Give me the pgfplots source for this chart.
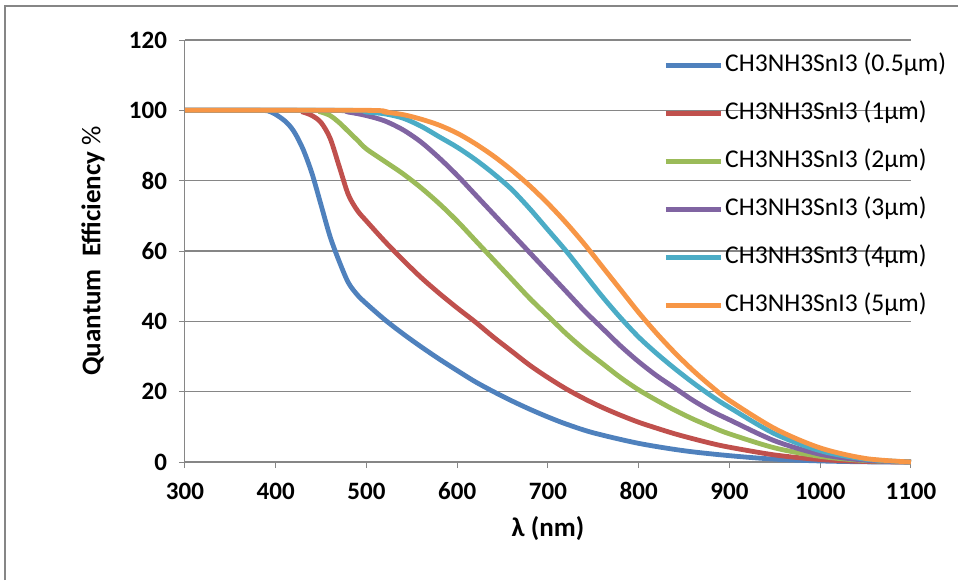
\documentclass[border=0pt]{standalone}
\usepackage{fontspec}
\setmainfont{Carlito}
\usepackage{pgfplots}
\pgfplotsset{compat=1.18}

\definecolor{xblue}{HTML}{4F81BD}
\definecolor{xred}{HTML}{C0504D}
\definecolor{xgreen}{HTML}{9BBB59}
\definecolor{xpurple}{HTML}{8064A2}
\definecolor{xteal}{HTML}{4BACC6}
\definecolor{xorange}{HTML}{F79646}
\definecolor{xgrid}{HTML}{868686}

\begin{document}
\begin{tikzpicture}
% page frame (chart area border, cut at right and bottom)
\useasboundingbox (-92.5pt,-59pt) rectangle (386.5pt,231pt);
\draw[xgrid, line width=0.75pt] (-90pt,-59pt) -- (-90pt,228pt) -- (386.5pt,228pt);

\begin{axis}[
    at={(0,0)}, anchor=origin,
    scale only axis,
    width=363pt, height=211pt,
    xmin=300, xmax=1100,
    ymin=0, ymax=120,
    xtick={300,400,...,1100},
    ytick={0,20,...,120},
    axis x line*=bottom,
    axis y line*=left,
    axis line style={xgrid, line width=0.5pt, -},
    tick align=outside,
    major tick length=3pt,
    tick style={xgrid, line width=0.5pt},
    ymajorgrids=true,
    grid style={xgrid, line width=0.6pt},
    /pgf/number format/assume math mode=true,
    /pgf/number format/set thousands separator={},
    ticklabel style={font=\bfseries\fontsize{12.5}{14}\selectfont},
    yticklabel style={anchor=east, xshift=-2.5pt},
    xticklabel style={anchor=center, yshift=-11.5pt},
    xlabel={λ (nm)},
    xlabel style={font=\bfseries\fontsize{13.5}{15}\selectfont, at={(0.5,-33.5pt)}, anchor=center},
    ylabel={{\bfseries Quantum\ \ Efficiency} \%},
    ylabel style={font=\fontsize{13.5}{15}\selectfont, at={(-46pt,0.5)}, anchor=center, rotate=0},
    legend style={at={(239pt,204.5pt)}, anchor=north west, draw=none, fill=none,
        font=\fontsize{12.8}{14}\selectfont, inner sep=0pt, row sep=12pt, column sep=1pt,
        nodes={inner sep=0pt, text height=9pt, text depth=3pt}},
    legend cell align=left,
    legend image code/.code={\draw[#1] (0pt,0pt) -- (27.5pt,0pt);},
    every axis plot/.append style={line width=2.4pt, smooth, tension=0.5},
    clip=false,
]

% 0.5 um
\addplot[xblue] coordinates {
(300,100) (380,100) (395,99.5) (410,97) (420,94) (430,89) (440,82) (450,73)
(460,64) (470,57) (480,51) (490,47.5) (500,45) (520,40.5) (540,36.5) (560,32.8)
(580,29.3) (600,26) (620,22.8) (640,20) (660,17.4) (680,15) (700,12.8)
(720,10.8) (750,8.3) (800,5.3) (850,3.2) (900,1.8) (950,0.8) (1000,0.3) (1050,0.05) (1100,0)
};
\addlegendentry{CH3NH3SnI3 (0.5µm)}

% 1 um
\addplot[xred] coordinates {
(300,100) (420,100) (430,99.5) (440,98.5) (450,96.5) (460,92) (470,84) (480,76)
(490,71.5) (500,68.5) (520,62.8) (540,57.5) (560,52.5) (580,48) (600,43.8)
(620,39.8) (640,35.5) (660,31.5) (680,27.5) (700,24) (720,20.8) (740,18)
(760,15.5) (780,13.3) (800,11.3) (820,9.6) (840,8) (860,6.6) (880,5.3)
(900,4.2) (950,2) (1000,0.7) (1050,0.15) (1100,0)
};
\addlegendentry{CH3NH3SnI3 (1µm)}

% 2 um
\addplot[xgreen] coordinates {
(300,100) (440,100) (450,99.5) (460,98.5) (470,96.5) (480,94) (490,91.5)
(500,89) (520,85.5) (540,82) (560,78) (580,73.5) (600,68.5) (620,63)
(640,57.5) (660,52) (680,46.5) (700,41.5) (720,36.5) (740,32) (760,28)
(780,24) (800,20.5) (820,17.5) (840,14.7) (860,12.2) (880,10) (900,8)
(950,4) (1000,1.6) (1050,0.4) (1100,0)
};
\addlegendentry{CH3NH3SnI3 (2µm)}

% 3 um
\addplot[xpurple] coordinates {
(300,100) (460,100) (480,99.5) (500,98.5) (520,97) (540,94.5) (560,91)
(580,86.5) (600,81.5) (620,76) (640,70.5) (660,65) (680,59.5) (700,54)
(720,48.5) (740,43) (760,38) (780,33) (800,28.5) (820,24.5) (840,21)
(860,17.5) (880,14.5) (900,12) (950,6) (1000,2.2) (1050,0.5) (1100,0)
};
\addlegendentry{CH3NH3SnI3 (3µm)}

% 4 um
\addplot[xteal] coordinates {
(300,100) (480,100) (500,99.5) (520,99) (540,97.8) (560,95.5) (580,92.5)
(600,89.5) (620,86) (640,82) (660,77.5) (680,72) (700,66) (720,60)
(740,53.5) (760,47) (780,41) (800,35.5) (820,30.8) (840,26.5) (860,22.5)
(880,18.8) (900,15.5) (950,8) (1000,3.2) (1050,0.8) (1100,0)
};
\addlegendentry{CH3NH3SnI3 (4µm)}

% 5 um
\addplot[xorange] coordinates {
(300,100) (500,100) (520,99.5) (540,98.8) (560,97.5) (580,95.8) (600,93.5)
(620,90.5) (640,87) (660,83) (680,78.5) (700,73.5) (720,68) (740,62)
(760,55.5) (780,49) (800,42.5) (820,36.5) (840,31) (860,26) (880,21.5)
(900,17.5) (950,9.5) (1000,4) (1050,1) (1100,0)
};
\addlegendentry{CH3NH3SnI3 (5µm)}

\end{axis}
\end{tikzpicture}
\end{document}
